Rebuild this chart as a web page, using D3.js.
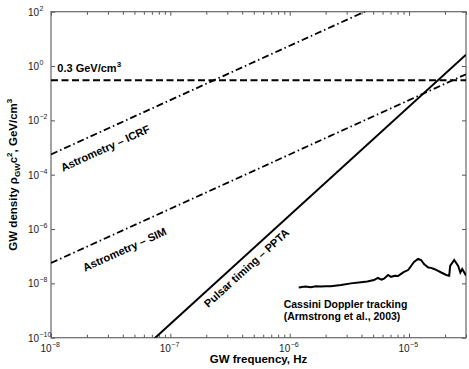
<!DOCTYPE html>
<html>
<head>
<meta charset="utf-8">
<script src="https://cdn.jsdelivr.net/npm/d3@7"></script>
<style>
  body { margin: 0; background: #fff; }
  svg { font-family: "Liberation Sans", Arial, Helvetica, sans-serif; }
  .tick line { stroke: #555; }
  .lbl { font-weight: bold; font-size: 11px; fill: #000; }
  .num { font-size: 10px; fill: #222; }
  .exp { font-size: 7px; fill: #222; }
</style>
</head>
<body>
<div id="chart"></div>
<script>
// axis ranges
var freqDomain = [1e-8, 3e-5],
    densDomain = [1e-10, 1e2];

var xMajor = [1e-8, 1e-7, 1e-6, 1e-5];
var yMajor = [1e2, 1e0, 1e-2, 1e-4, 1e-6, 1e-8, 1e-10];

// straight limits, two end points each (log-log lines)
var dmFreq = [1e-8, 3e-5],
    dmDens = [0.3, 0.3];               // 0.3 GeV/cm^3 local dark matter
var icrfFreq = [1e-8, 3e-5],
    icrfDens = [5.6e-4, 5.0e3];
var simFreq = [1e-8, 3e-5],
    simDens = [5.6e-8, 0.5];
var pptaFreq = [1e-8, 3e-5],
    pptaDens = [3.2e-14, 2.6];

// Cassini Doppler tracking curve (Armstrong et al., 2003)
var cassiniFreq = [1.19e-6, 1.35e-6, 1.50e-6, 1.66e-6, 1.82e-6, 2.0e-6, 2.21e-6, 2.69e-6,
  3.26e-6, 3.95e-6, 4.47e-6, 5.08e-6, 5.48e-6, 5.89e-6, 6.17e-6, 6.67e-6, 7.06e-6, 7.59e-6,
  8.09e-6, 8.57e-6, 9.08e-6, 9.82e-6, 1.04e-5, 1.10e-5, 1.19e-5, 1.26e-5, 1.34e-5, 1.45e-5,
  1.53e-5, 1.62e-5, 1.75e-5, 1.86e-5, 2.05e-5, 2.17e-5, 2.21e-5, 2.39e-5, 2.58e-5, 2.69e-5,
  2.79e-5, 3.0e-5];
var cassiniDens = [7.1e-9, 7.6e-9, 7.2e-9, 7.8e-9, 7.6e-9, 7.9e-9, 7.8e-9, 8.7e-9,
  1.0e-8, 1.10e-8, 1.17e-8, 1.32e-8, 1.58e-8, 1.38e-8, 1.48e-8, 2.04e-8, 1.74e-8, 1.91e-8,
  1.86e-8, 2.24e-8, 2.63e-8, 3.09e-8, 4.37e-8, 6.17e-8, 7.94e-8, 7.24e-8, 5.01e-8, 3.80e-8,
  3.72e-8, 3.39e-8, 2.88e-8, 2.51e-8, 2.04e-8, 1.91e-8, 4.37e-8, 7.24e-8, 4.37e-8, 2.51e-8,
  3.39e-8, 1.95e-8];

var margin = {top: 11.7, right: 3, bottom: 31.3, left: 51},
    width = 469 - margin.left - margin.right,
    height = 369 - margin.top - margin.bottom;

var xScale = d3.scaleLog().domain(freqDomain).range([0, width]),
    yScale = d3.scaleLog().domain(densDomain).range([height, 0]);

var svg = d3.select("#chart").append("svg")
    .attr("width", 469)
    .attr("height", 369)
  .append("g")
    .attr("transform", "translate(" + margin.left + "," + margin.top + ")");

svg.append("clipPath").attr("id", "plotclip")
  .append("rect").attr("width", width).attr("height", height);

// minor x ticks 2..9 per decade
var xMinor = [];
xMajor.forEach(function(m) {
  for (var k = 2; k <= 9; k++) if (m * k <= freqDomain[1] * 1.0001) xMinor.push(m * k);
});

function drawTicks(axisFn, vals, size, transform) {
  var g = svg.append("g")
      .attr("transform", transform)
      .call(axisFn.tickValues(vals).tickSize(size).tickFormat(""));
  g.select(".domain").remove();
}
drawTicks(d3.axisBottom(xScale), xMinor, -3, "translate(0," + height + ")");
drawTicks(d3.axisBottom(xScale), xMajor, -4, "translate(0," + height + ")");
drawTicks(d3.axisTop(xScale), xMinor, -3, "translate(0,0)");
drawTicks(d3.axisTop(xScale), xMajor, -4, "translate(0,0)");
drawTicks(d3.axisLeft(yScale), yMajor, -4, "translate(0,0)");
drawTicks(d3.axisRight(yScale), yMajor, -4, "translate(" + width + ",0)");

// box
svg.append("rect")
    .attr("width", width).attr("height", height)
    .attr("fill", "none").attr("stroke", "#666").attr("stroke-width", 1.2);

// tick labels as 10^n
xMajor.forEach(function(v) {
  var px = xScale(v), e = Math.round(Math.log10(v));
  svg.append("text").attr("class", "num").attr("text-anchor", "end")
      .attr("x", px + 0.5).attr("y", height + 14.5).text("10");
  svg.append("text").attr("class", "exp")
      .attr("x", px + 1).attr("y", height + 9.5).text(e < 0 ? "\u2212" + (-e) : e);
});
yMajor.forEach(function(v) {
  var py = yScale(v), e = Math.round(Math.log10(v));
  svg.append("text").attr("class", "num")
      .attr("x", 28 - margin.left).attr("y", py + 4).text("10");
  svg.append("text").attr("class", "exp")
      .attr("x", 39.5 - margin.left).attr("y", py - 1).text(e < 0 ? "\u2212" + (-e) : e);
});

// axis labels
svg.append("text").attr("class", "lbl")
    .style("font-size", "11.5px")
    .attr("text-anchor", "middle")
    .attr("x", width * 0.5).attr("y", height + 25)
    .text("GW frequency, Hz");

var ylab = svg.append("text").attr("class", "lbl")
    .style("font-size", "11.5px")
    .attr("text-anchor", "middle")
    .attr("transform", "translate(" + (17 - margin.left) + "," + (height / 2) + ") rotate(-90)");
ylab.append("tspan").text("GW density \u03c1");
ylab.append("tspan").attr("dy", 3).style("font-size", "8px").text("GW");
ylab.append("tspan").attr("dy", -3).text("c");
ylab.append("tspan").attr("dy", -5).style("font-size", "8px").text("2");
ylab.append("tspan").attr("dy", 5).text(", GeV/cm");
ylab.append("tspan").attr("dy", -5).style("font-size", "8px").text("3");

// curves
var line = d3.line()
    .x(function(d) { return xScale(d[0]); })
    .y(function(d) { return yScale(d[1]); });

var plot = svg.append("g").attr("clip-path", "url(#plotclip)");

function drawSeries(fs, ds, dash, w) {
  plot.append("path")
      .datum(d3.zip(fs, ds))
      .attr("d", line)
      .attr("fill", "none")
      .attr("stroke", "#000")
      .attr("stroke-width", w)
      .attr("stroke-dasharray", dash);
}
drawSeries(dmFreq, dmDens, "7,3.5", 2);
drawSeries(icrfFreq, icrfDens, "7,3,1.5,3", 1.8);
drawSeries(simFreq, simDens, "7,3,1.5,3", 1.8);
drawSeries(pptaFreq, pptaDens, null, 2);
drawSeries(cassiniFreq, cassiniDens, null, 2);

// annotations
function angleOf(fs, ds) {
  var dx = xScale(fs[1]) - xScale(fs[0]),
      dy = yScale(ds[1]) - yScale(ds[0]);
  return Math.atan2(dy, dx) * 180 / Math.PI;
}
function rotLabel(txt, f, d, ang) {
  svg.append("text").attr("class", "lbl")
      .attr("transform", "translate(" + xScale(f) + "," + yScale(d) + ") rotate(" + ang + ")")
      .text(txt);
}
rotLabel("Astrometry \u2013 ICRF", 1.26e-8, 1.29e-4, angleOf(icrfFreq, icrfDens));
rotLabel("Astrometry \u2013 SIM", 1.93e-8, 2.7e-8, angleOf(simFreq, simDens));
rotLabel("Pulsar timing \u2013 PPTA", 2.08e-7, 1.24e-9, angleOf(pptaFreq, pptaDens));

var dmLab = svg.append("text").attr("class", "lbl")
    .attr("x", xScale(1.13e-8)).attr("y", yScale(0.3) - 8);
dmLab.append("tspan").text("0.3 GeV/cm");
dmLab.append("tspan").attr("dy", -5).style("font-size", "8px").text("3");

svg.append("text").attr("class", "lbl")
    .style("font-size", "10.5px")
    .attr("x", xScale(8.9e-7)).attr("y", yScale(1.2e-9))
    .text("Cassini Doppler tracking");
svg.append("text").attr("class", "lbl")
    .style("font-size", "10.5px")
    .attr("x", xScale(8.9e-7)).attr("y", yScale(4.3e-10))
    .text("(Armstrong et al., 2003)");
</script>
</body>
</html>
